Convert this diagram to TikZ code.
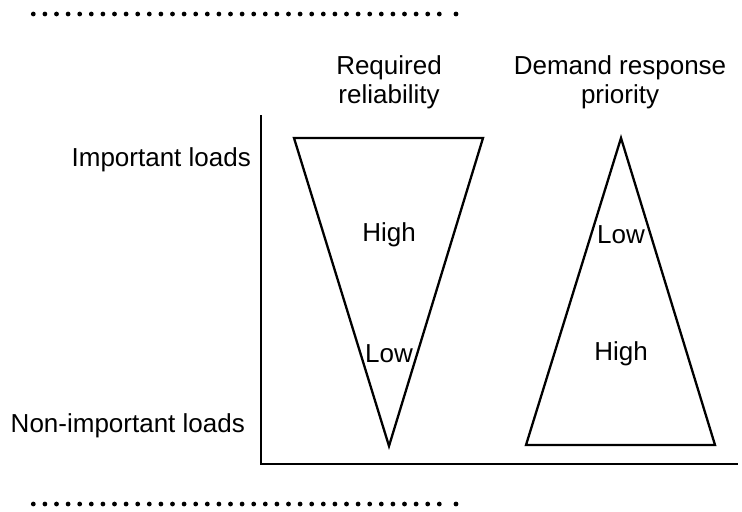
\documentclass[tikz,border=0pt]{standalone}
\usepackage{fontspec}
\setmainfont{Liberation Sans}
\begin{document}
\begin{tikzpicture}[x=0.5pt, y=-0.5pt, line width=1.15pt,
    every node/.style={font=\fontsize{13}{14.5}\selectfont, inner sep=0pt, align=center}]
    \useasboundingbox (0,0) rectangle (742,511);

    % dotted rules
    \foreach \yy in {14, 504} {
      \foreach \i in {0,...,35}
        \fill (33.3+\i*11.6, \yy) circle (1.2pt);
      \fill (456, \yy) circle (1.2pt);
    }

    % axes
    \coordinate (top)    at (261, 115);
    \coordinate (origin) at (261, 464);
    \coordinate (right)  at (738, 464);
    \draw (top) -- (origin) -- (right);

    % triangles
    \coordinate (r1) at (294, 138);
    \coordinate (r2) at (483, 138);
    \coordinate (r3) at (389, 446);
    \draw[line join=miter] (r1) -- (r2) -- (r3) -- cycle;

    \coordinate (d1) at (621, 138);
    \coordinate (d2) at (715, 445);
    \coordinate (d3) at (526, 445);
    \draw[line join=miter] (d1) -- (d2) -- (d3) -- cycle;

    % labels
    \node (rel)  at (389, 82) {Required\\reliability};
    \node (dr)   at (620, 82) {Demand response\\priority};
    \node[anchor=east] (imp) at (252, 160) {Important loads};
    \node[anchor=east] (non) at (246, 426) {Non-important loads};
    \node (rhigh) at (389, 235) {High};
    \node (rlow)  at (389, 354) {Low};
    \node (dlow)  at (621, 235) {Low};
    \node (dhigh) at (621, 354) {High};

  \end{tikzpicture}
\end{document}
